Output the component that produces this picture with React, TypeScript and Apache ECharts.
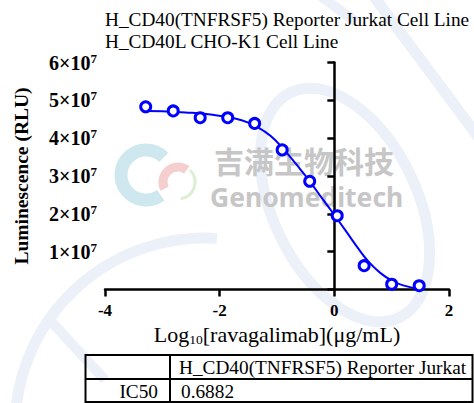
import React, { useEffect, useRef } from "react";
import * as echarts from "echarts";

// ---- data ----
const TITLE_LINES = ["H_CD40(TNFRSF5) Reporter Jurkat Cell Line", "H_CD40L CHO-K1 Cell Line"];
const Y_NAME = "Luminescence (RLU)";
const X_NAME_PARTS = ["Log", "10", "[ravagalimab](μg/mL)"];
const X_TICKS = [-4, -2, 0, 2];
const Y_TICKS = [0, 1e7, 2e7, 3e7, 4e7, 5e7, 6e7];
const POINT_LOG_X = [-3.29, -2.81, -2.34, -1.86, -1.39, -0.91, -0.43, 0.05, 0.52, 1.0, 1.48];
const POINT_Y = [4.83e7, 4.72e7, 4.54e7, 4.54e7, 4.39e7, 3.69e7, 2.86e7, 1.95e7, 0.63e7, 0.14e7, 0.1e7];
const CURVE_LOG_X = [-3.29, -3.0, -2.6, -2.2, -1.8, -1.5, -1.2, -1.0, -0.8, -0.6, -0.4, -0.2, 0, 0.2, 0.4, 0.6, 0.8, 1.0, 1.2, 1.48];
const CURVE_Y = [4.72e7, 4.71e7, 4.68e7, 4.63e7, 4.54e7, 4.41e7, 4.16e7, 3.9e7, 3.56e7, 3.19e7, 2.8e7, 2.38e7, 1.97e7, 1.55e7, 1.12e7, 0.73e7, 0.44e7, 0.24e7, 0.11e7, 0.02e7];
const TABLE_HEADER = "H_CD40(TNFRSF5) Reporter Jurkat";
const TABLE_ROW_LABEL = "IC50";
const TABLE_ROW_VALUE = "0.6882";
const WATERMARK_CN = "吉满生物科技";
const WATERMARK_EN = "Genomeditech";

const FONT = "'Liberation Serif', 'Times New Roman', serif";
const BLUE = "#0000ff";
const WM = "#ebf0f9";

export default function App() {
  const ref = useRef<HTMLDivElement>(null);
  useEffect(() => {
    const chart = echarts.init(ref.current!, undefined, { renderer: "svg" });
    const curve = CURVE_LOG_X.map((x, i) => [x, CURVE_Y[i]]);
    const pts = POINT_LOG_X.map((x, i) => [x, POINT_Y[i]]);

    // table geometry
    const tL = 85.5, tM = 170, tR = 472.5, tT = 355, tRow = 379, tB = 402;
    const tableLine = (x1: number, y1: number, x2: number, y2: number) => ({
      type: "line",
      z: 20,
      shape: { x1, y1, x2, y2 },
      style: { stroke: "#000", lineWidth: 2 },
    });

    const option: any = {
      animation: false,
      backgroundColor: "#fff",
      title: {
        text: TITLE_LINES.join("\n"),
        left: 100,
        top: 4,
        textStyle: { fontFamily: FONT, fontSize: 19.3, fontWeight: "normal", color: "#000", lineHeight: 21.5 },
      },
      grid: { left: 105, right: 25, top: 62.5, bottom: 113.5 },
      xAxis: {
        type: "value",
        min: X_TICKS[0],
        max: X_TICKS[X_TICKS.length - 1],
        interval: 2,
        splitLine: { show: false },
        axisLine: { show: true, lineStyle: { color: "#000", width: 2.5 } },
        axisTick: { show: true, length: 7, lineStyle: { color: "#000", width: 2.5 } },
        axisLabel: { color: "#000", fontFamily: FONT, fontWeight: "bold", fontSize: 17, margin: 12 },
        name: `{b|${X_NAME_PARTS[0]}}{s|${X_NAME_PARTS[1]}}{b|${X_NAME_PARTS[2]}}`,
        nameLocation: "middle",
        nameGap: 30,
        nameTextStyle: {
          rich: {
            b: { fontFamily: FONT, fontSize: 22, color: "#000", lineHeight: 24 },
            s: { fontFamily: FONT, fontSize: 13.5, color: "#000", lineHeight: 13, verticalAlign: "bottom" },
          },
        },
      },
      yAxis: {
        type: "value",
        min: Y_TICKS[0],
        max: Y_TICKS[Y_TICKS.length - 1],
        interval: 1e7,
        splitLine: { show: false },
        axisLine: { show: true, lineStyle: { color: "#000", width: 2.5 } },
        axisTick: { show: true, length: 7, lineStyle: { color: "#000", width: 2.5 } },
        axisLabel: {
          margin: 8,
          formatter: (v: number) => (v === 0 ? "" : `{b|${Math.round(v / 1e7)}×10}{s|7}`),
          rich: {
            b: { fontFamily: FONT, fontWeight: "bold", fontSize: 20, color: "#000", lineHeight: 22 },
            s: { fontFamily: FONT, fontWeight: "bold", fontSize: 13, color: "#000", lineHeight: 12, verticalAlign: "top" },
          },
        },
        name: Y_NAME,
        nameLocation: "middle",
        nameRotate: 90,
        nameGap: 74,
        nameTextStyle: { fontFamily: FONT, fontWeight: "bold", fontSize: 19.5, color: "#000" },
      },
      graphic: [
        // faint background strokes
        { type: "line", z: -5, silent: true, shape: { x1: 372, y1: -6, x2: 482, y2: 142 }, style: { stroke: WM, lineWidth: 11 } },
        { type: "line", z: -5, silent: true, shape: { x1: 318, y1: -6, x2: 356, y2: 22 }, style: { stroke: WM, lineWidth: 10 } },
        {
          type: "arc", z: -5, silent: true,
          shape: { cx: 205, cy: 428, r: 190, startAngle: Math.PI * 1.0, endAngle: Math.PI * 1.52, clockwise: true },
          style: { stroke: WM, lineWidth: 11, fill: "none" },
        },
        {
          type: "ellipse", z: -5, silent: true, x: 345, y: 205, rotation: 0.45,
          shape: { cx: 0, cy: 0, rx: 72, ry: 125 },
          style: { stroke: WM, lineWidth: 11, fill: "none" },
        },
        { type: "line", z: -5, silent: true, shape: { x1: 48, y1: 318, x2: 105, y2: 380 }, style: { stroke: WM, lineWidth: 10 } },
        // logo
        {
          type: "arc", z: -4, silent: true,
          shape: { cx: 146, cy: 175, r: 25, startAngle: Math.PI * 0.3, endAngle: Math.PI * 1.75, clockwise: true },
          style: { stroke: "#cfe8f0", lineWidth: 13, fill: "none" },
        },
        {
          type: "arc", z: -4, silent: true,
          shape: { cx: 178, cy: 182, r: 15, startAngle: Math.PI * 0.85, endAngle: Math.PI * 1.7, clockwise: true },
          style: { stroke: "#f5cfcf", lineWidth: 9, fill: "none" },
        },
        {
          type: "arc", z: -4, silent: true,
          shape: { cx: 178, cy: 182, r: 17, startAngle: Math.PI * 1.75, endAngle: Math.PI * 2.45, clockwise: true },
          style: { stroke: "#dcefd2", lineWidth: 3, fill: "none" },
        },
        {
          type: "text", z: -3, silent: true, x: 214, y: 160,
          style: { text: WATERMARK_CN, fontFamily: "'Noto Sans CJK SC'", fontWeight: "bold", fontSize: 30, fill: "#c6c6c6", textVerticalAlign: "middle" },
        },
        {
          type: "text", z: -3, silent: true, x: 210, y: 197,
          style: { text: WATERMARK_EN, fontFamily: "'Noto Sans', sans-serif", fontWeight: "bold", fontSize: 26.5, fill: "#c6c6c6", textVerticalAlign: "middle" },
        },
        // table
        tableLine(tL, tT, tR, tT),
        tableLine(tL, tRow, tR, tRow),
        tableLine(tL, tB, tR, tB),
        tableLine(tL, tT - 1, tL, tB + 1),
        tableLine(tM, tT - 1, tM, tB + 1),
        tableLine(tR, tT - 1, tR, tB + 1),
        {
          type: "text", z: 20, x: 179, y: 367,
          style: { text: TABLE_HEADER, fontFamily: FONT, fontSize: 19.3, fill: "#000", textVerticalAlign: "middle" },
        },
        {
          type: "text", z: 20, x: 158, y: 391,
          style: { text: TABLE_ROW_LABEL, fontFamily: FONT, fontSize: 19.3, fill: "#000", textAlign: "right", textVerticalAlign: "middle" },
        },
        {
          type: "text", z: 20, x: 181, y: 391,
          style: { text: TABLE_ROW_VALUE, fontFamily: FONT, fontSize: 19.3, fill: "#000", textVerticalAlign: "middle" },
        },
      ],
      series: [
        {
          type: "line",
          data: curve,
          smooth: true,
          showSymbol: false,
          symbol: "none",
          lineStyle: { color: BLUE, width: 2 },
          z: 3,
        },
        {
          type: "scatter",
          data: pts,
          symbol: "circle",
          symbolSize: 10,
          itemStyle: { color: "#fff", borderColor: BLUE, borderWidth: 3, opacity: 1 },
          z: 4,
        },
      ],
    };
    chart.setOption(option);
    return () => chart.dispose();
  }, []);
  return <div ref={ref} style={{ position: "fixed", left: 0, top: 0, width: 474, height: 403, background: "#fff" }} />;
}
